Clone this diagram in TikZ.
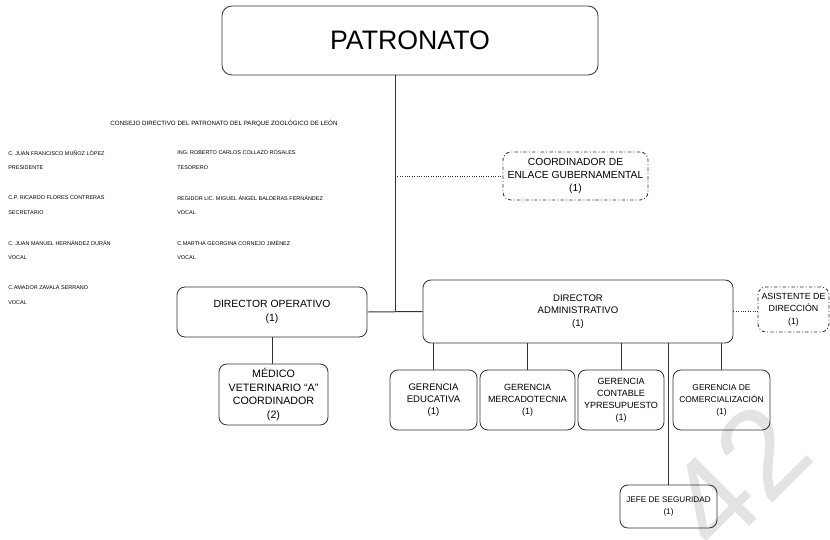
\documentclass[tikz,border=0pt]{standalone}
\usepackage{fontspec}
\setmainfont{Liberation Sans}
\usepackage{tikz}
\usetikzlibrary{calc}
\tikzset{>=latex}
\newcommand{\letra}[2]{\fontsize{#1}{#2}\selectfont}
\tikzset{puesto/.style={draw=black!80, line width=0.6pt, rounded corners=0.2cm, align=center, inner sep=1pt},
  apoyo/.style={puesto, dash pattern=on 2.5pt off 1.5pt on 0.7pt off 1.5pt},
  linea/.style={draw=black!80, line width=0.7pt},
  enlace/.style={linea, densely dotted},
  miembro/.style={anchor=west, inner sep=0pt, font=\letra{3.9}{4.5}}}

\begin{document}
\begin{tikzpicture}[x=0.025cm, y=-0.025cm]
\useasboundingbox (0,0) rectangle (830,540);
\node[text=black!11, rotate=45, font=\letra{90}{90}] (marca) at (737,476) {42};

\node[puesto, rounded corners=0.25cm, minimum width=9.4cm, minimum height=1.725cm, font=\letra{19}{22}] (patronato) at (410,40.5) {PATRONATO};
\node[apoyo, minimum width=3.625cm, minimum height=1.2cm, font=\letra{7.3}{9.2}] (coord) at (575.5,176) {COORDINADOR DE\\ENLACE GUBERNAMENTAL\\(1)};
\node[puesto, minimum width=4.75cm, minimum height=1.25cm, font=\letra{7.4}{10}] (dirop) at (272,312) {DIRECTOR OPERATIVO\\(1)};
\node[puesto, minimum width=2.725cm, minimum height=1.525cm, font=\letra{7.6}{9.5}] (medico) at (273.5,394.5) {MÉDICO\\VETERINARIO ``A''\\COORDINADOR\\(2)};
\node[puesto, minimum width=7.75cm, minimum height=1.575cm, font=\letra{6.8}{9}] (diradm) at (578,311.5) {DIRECTOR\\ADMINISTRATIVO\\(1)};
\node[apoyo, minimum width=1.775cm, minimum height=1.125cm, font=\letra{6.3}{8.8}] (asist) at (793.5,309.5) {ASISTENTE DE\\DIRECCIÓN\\(1)};
\node[puesto, minimum width=2.175cm, minimum height=1.5cm, font=\letra{6.8}{8.5}] (geredu) at (433.5,400) {GERENCIA\\EDUCATIVA\\(1)};
\node[puesto, minimum width=2.375cm, minimum height=1.5cm, font=\letra{6.4}{8.5}] (germer) at (527.5,400) {GERENCIA\\MERCADOTECNIA\\(1)};
\node[puesto, minimum width=2.15cm, minimum height=1.5cm, font=\letra{6.4}{8.5}] (gercon) at (621,400) {GERENCIA\\CONTABLE\\YPRESUPUESTO\\(1)};
\node[puesto, minimum width=2.425cm, minimum height=1.5cm, font=\letra{6}{8.5}] (gercom) at (721.5,400) {GERENCIA DE\\COMERCIALIZACIÓN\\(1)};
\node[puesto, minimum width=2.425cm, minimum height=1.075cm, font=\letra{5.8}{9}] (jefe) at (668.5,506.5) {JEFE DE SEGURIDAD\\(1)};

\coordinate (eje) at (395,312);
\draw[linea] (eje |- patronato.south) -- (eje);
\draw[linea] (dirop.east) -- (diradm.west);
\draw[enlace] (eje |- coord.west) -- (coord.west);
\draw[enlace] (diradm.east) -- (diradm.east -| asist.west);
\draw[linea] (dirop.south) -- (dirop.south |- medico.north);
\draw[linea] (diradm.south -| geredu.north) -- (geredu.north);
\draw[linea] (diradm.south -| germer.north) -- (germer.north);
\draw[linea] (diradm.south -| gercon.north) -- (gercon.north);
\draw[linea] (diradm.south -| gercom.north) -- (gercom.north);
\draw[linea] (diradm.south -| jefe.north) -- (jefe.north);

\node[anchor=center, inner sep=0pt, font=\letra{4.4}{5}] (consejo) at (224,123) {CONSEJO DIRECTIVO DEL PATRONATO DEL PARQUE ZOOLÓGICO DE LEÓN};
\node[miembro] (n1) at (8,153) {C. JUAN FRANCISCO MUÑOZ LÓPEZ};
\node[miembro] (p1) at (8,168) {PRESIDENTE};
\node[miembro] (n2) at (177,153) {ING. ROBERTO CARLOS COLLAZO ROSALES};
\node[miembro] (p2) at (177,168) {TESORERO};
\node[miembro] (n3) at (8,198) {C.P. RICARDO FLORES CONTRERAS};
\node[miembro] (p3) at (8,213) {SECRETARIO};
\node[miembro] (n4) at (177,198) {REGIDOR LIC. MIGUEL ÁNGEL BALDERAS FERNÁNDEZ};
\node[miembro] (p4) at (177,213) {VOCAL};
\node[miembro] (n5) at (8,243) {C. JUAN MANUEL HERNÁNDEZ DURÁN};
\node[miembro] (p5) at (8,258) {VOCAL};
\node[miembro] (n6) at (177,243) {C.MARTHA GEORGINA CORNEJO JIMÉNEZ};
\node[miembro] (p6) at (177,258) {VOCAL};
\node[miembro] (n7) at (8,288) {C.AMADOR ZAVALA SERRANO};
\node[miembro] (p7) at (8,303) {VOCAL};
\end{tikzpicture}
\end{document}
